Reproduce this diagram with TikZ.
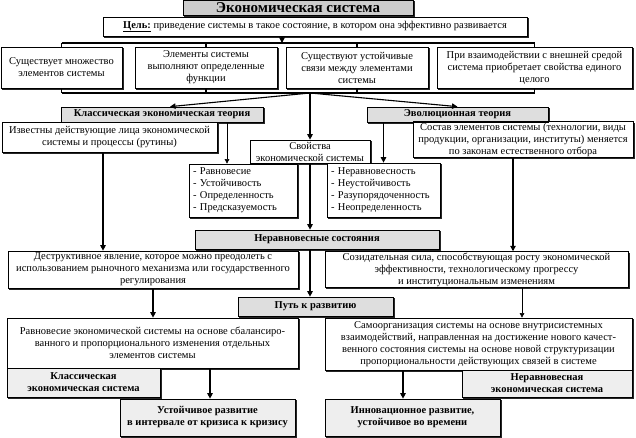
\documentclass[tikz,border=0pt]{standalone}
\usepackage{fontspec}
\setmainfont{Liberation Serif}
\usetikzlibrary{arrows.meta,calc}
\pgfdeclarelayer{shadowlayer}
\pgfdeclarelayer{filllayer}
\pgfsetlayers{shadowlayer,filllayer,main}
\definecolor{hdgray}{RGB}{222,222,222}
\definecolor{ttgray}{RGB}{204,204,204}
\definecolor{ltgray}{RGB}{238,238,238}
\tikzset{
  bx/.style={draw, line width=0.7pt, align=center, inner sep=1pt,
    font=\fontsize{10.5}{12}\selectfont},
  gbx/.style={bx, font=\fontsize{10.5}{12}\selectfont\bfseries},
  lst/.style={bx, align=left},
  shd/.style={fill=black!85},
  arr/.style={-{Triangle[length=5.5pt,width=5.5pt]}, line width=1.1pt},
  arrthin/.style={-{Triangle[length=4.5pt,width=4.5pt]}, line width=0.5pt},
  ln/.style={line width=1.1pt}
}
% #1 style, #2 fill colour, #3-#6 corners, #7 name, #8 text
\newcommand{\pbox}[8]{\node[#1, minimum width={(#5)-(#3)}, minimum height={(#6)-(#4)}] (#7) at ({((#3)+(#5))/2},{((#4)+(#6))/2}) {#8};
\begin{pgfonlayer}{shadowlayer}\fill[shd] ([xshift=1.7pt,yshift=-1.7pt]#7.south west) rectangle ([xshift=1.7pt,yshift=-1.7pt]#7.north east);\end{pgfonlayer}
\begin{pgfonlayer}{filllayer}\fill[#2] (#7.south west) rectangle (#7.north east);\end{pgfonlayer}}
\begin{document}
\begin{tikzpicture}[x=1pt,y=-1pt]
\useasboundingbox (0,0) rectangle (636,438);
% top
\pbox{gbx, font=\fontsize{15}{16}\selectfont\bfseries}{ttgray}{183}{0}{413}{15}{title}{Экономическая система}
\pbox{bx}{white}{103}{17}{527}{36}{goal}{\underline{\textbf{Цель:}} приведение системы в такое состояние, в котором она эффективно развивается}
\pbox{bx}{white}{1}{47}{122}{88}{b1}{Существует множество\\элементов системы}
\pbox{bx}{white}{135}{47}{277}{88}{b2}{Элементы системы\\выполняют определенные\\функции}
\pbox{bx}{white}{286}{47}{428}{88}{b3}{Существуют устойчивые\\связи между элементами\\системы}
\pbox{bx}{white}{437}{47}{632}{88}{b4}{При взаимодействии с внешней средой\\система приобретает свойства единого\\целого}
% brackets
\coordinate (tb) at (0,43);
\coordinate (bb) at (0,93);
\coordinate (ga) at (282,43);
\coordinate (br) at (310,93);
\draw[ln] (b1.north |- tb) -- (b4.north |- tb);
\draw[ln] (b1.south |- bb) -- (b4.south |- bb);
\foreach \n in {b1,b2,b3,b4}{
  \draw[ln] (\n.north |- tb) -- (\n.north);
  \draw[ln] (\n.south) -- (\n.south |- bb);
}
\draw[arr] (goal.south -| ga) -- (ga);
% theories
\pbox{gbx}{hdgray}{61}{107}{263}{122}{kt}{Классическая экономическая теория}
\pbox{bx}{white}{2}{122}{217}{152}{izv}{Известны действующие лица экономической\\системы и процессы (рутины)}
\pbox{gbx}{hdgray}{367}{107}{548}{122}{et}{Эволюционная теория}
\pbox{bx}{white}{413}{122}{633}{157}{sost}{Состав элементов системы (технологии, виды\\продукции, организации, институты) меняется\\по законам естественного отбора}
\pbox{bx}{white}{250}{140}{370}{163}{svo}{Свойства\\экономической системы}
\pbox{lst, text width=100pt}{white}{189}{164}{297}{217}{listL}{- Равновесие\\- Устойчивость\\- Определенность\\- Предсказуемость}
\pbox{lst, text width=105pt}{white}{327}{163}{440}{217}{listR}{- Неравновесность\\- Неустойчивость\\- Разупорядоченность\\- Неопределенность}
\draw[arr] (br) -- ([xshift=8pt]kt.north);
\draw[arr] (br) -- (svo.north);
\draw[arr] (br) -- (et.north);
% states
\pbox{gbx}{hdgray}{195}{230}{439}{249}{nerav}{Неравновесные состояния}
\pbox{bx}{white}{8}{251}{298}{288}{destr}{Деструктивное явление, которое можно преодолеть с\\использованием рыночного механизма или государственного\\регулирования}
\pbox{bx}{white}{325}{252}{628}{287}{sozid}{Созидательная сила, способствующая росту экономической\\эффективности, технологическому прогрессу\\и институциональным изменениям}
\pbox{gbx}{hdgray}{238}{297}{393}{316}{put}{Путь к развитию}
\pbox{bx}{white}{7}{318}{298}{368}{ravn}{Равновесие экономической системы на основе сбалансиро-\\ванного и пропорционального изменения отдельных\\элементов системы}
\pbox{bx}{white}{325}{318}{632}{370}{samo}{Самоорганизация системы на основе внутрисистемных\\взаимодействий, направленная на достижение нового качест-\\венного состояния системы на основе новой структуризации\\пропорциональности действующих связей в системе}
\pbox{gbx}{ltgray}{7}{368}{160}{397}{kes}{Классическая\\экономическая система}
\pbox{gbx}{ltgray}{462}{370}{632}{397}{nes}{Неравновесная\\экономическая система}
\pbox{gbx}{ltgray}{120}{399}{295}{436}{ust}{Устойчивое развитие\\в интервале от кризиса к кризису}
\pbox{gbx}{ltgray}{325}{399}{500}{436}{inn}{Инновационное развитие,\\устойчивое во времени}
% connectors
\coordinate (xa) at (103,0);
\coordinate (xb) at (513,0);
\coordinate (xc) at (227,0);
\coordinate (xd) at (522,0);
\coordinate (xe) at (210,0);
\coordinate (xf) at (403,0);
\draw[arr] (izv.south -| xa) -- (destr.north -| xa);
\draw[arr] (sost.south -| xb) -- (sozid.north -| xb);
\draw[arrthin] (kt.south -| xc) -- (listL.north -| xc);
\draw[arr] (listR.north |- et.south) -- (listR.north);
\draw[arr] (svo.south) -- (svo.south |- nerav.north);
\draw[arr] (svo.south |- nerav.south) -- (svo.south |- put.north);
\draw[arr] (destr.south) -- (destr.south |- ravn.north);
\draw[arrthin] (sozid.south -| xd) -- (samo.north -| xd);
\draw[arr] (ravn.south -| xe) -- (ust.north -| xe);
\draw[arr] (samo.south -| xf) -- (inn.north -| xf);
\end{tikzpicture}
\end{document}
